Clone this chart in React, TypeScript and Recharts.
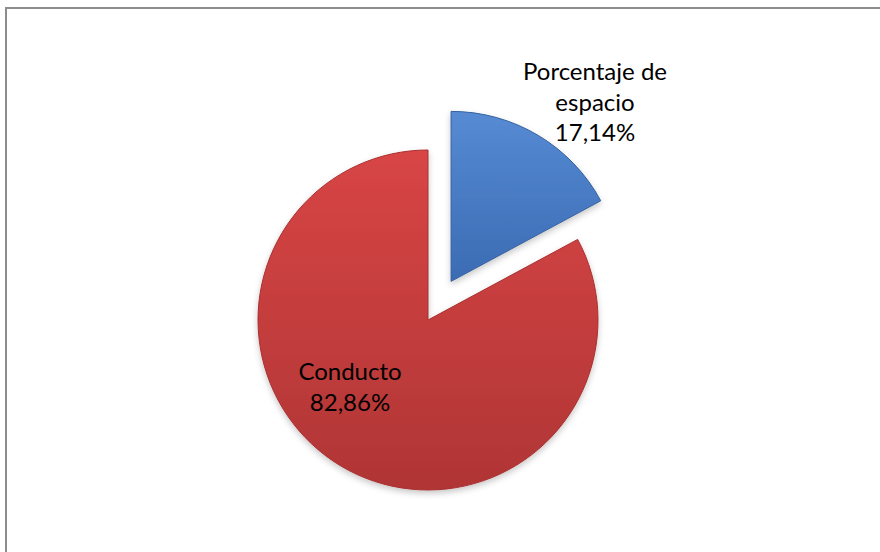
import React from 'react';
import { PieChart, Pie, Cell, Sector } from 'recharts';

const names = ['Porcentaje de espacio', 'Conducto'];
const values = [17.14, 82.86];
const valueLabels = ['17,14%', '82,86%'];
const labelLines = [['Porcentaje de', 'espacio'], ['Conducto']];

const data = names.map((name, i) => ({ name, value: values[i] }));

const FILLS = ['url(#blueGrad)', 'url(#redGrad)'];
const STROKES = ['#34609f', '#a83030'];
const RAD = Math.PI / 180;
const EXPLODE = 45;

// blue slice is pulled out along its mid angle
const renderSlice = (props: any) => {
  const { cx, cy, midAngle, index } = props;
  const off = index === 0 ? EXPLODE : 0;
  const dx = Math.cos(-midAngle * RAD) * off;
  const dy = Math.sin(-midAngle * RAD) * off;
  return <Sector {...props} cx={cx + dx} cy={cy + dy} filter="url(#shadow)" />;
};

const renderLabel = (props: any) => {
  const { cx, cy, index } = props;
  const lines = [...labelLines[index], valueLabels[index]];
  // label anchors relative to the pie centre
  const x = index === 0 ? cx + 167 : cx - 78;
  const y = index === 0 ? cy - 240 : cy + 60;
  return (
    <text x={x} y={y} textAnchor="middle" fill="#000" fontSize={24} fontFamily="Lato">
      {lines.map((l, i) => (
        <tspan key={i} x={x} dy={i === 0 ? 0 : 30.5}>{l}</tspan>
      ))}
    </text>
  );
};

export default function App() {
  return (
    <div style={{ position: 'fixed', left: 0, top: 0, width: 880, height: 552, background: '#fff', overflow: 'hidden' }}>
      <div style={{ position: 'absolute', left: 5, top: 7, width: 880, height: 560, borderLeft: '2px solid #8d8d8d', borderTop: '2px solid #8d8d8d' }} />
      <div style={{ position: 'absolute', left: 0, top: 0 }}>
        <PieChart width={880} height={552} margin={{ top: 0, right: 0, bottom: 0, left: 0 }}>
          <defs>
            <linearGradient id="redGrad" x1="0" y1="0" x2="0" y2="1">
              <stop offset="0%" stopColor="#d84545" />
              <stop offset="100%" stopColor="#b03535" />
            </linearGradient>
            <linearGradient id="blueGrad" x1="0" y1="0" x2="0" y2="1">
              <stop offset="0%" stopColor="#568bd4" />
              <stop offset="100%" stopColor="#3a6bb3" />
            </linearGradient>
            <filter id="shadow" x="-20%" y="-20%" width="140%" height="140%">
              <feDropShadow dx="0" dy="3" stdDeviation="3" floodColor="#000" floodOpacity="0.22" />
            </filter>
          </defs>
          <Pie
            data={data}
            dataKey="value"
            cx={428}
            cy={320}
            outerRadius={170}
            startAngle={90}
            endAngle={-270}
            isAnimationActive={false}
            shape={renderSlice}
            label={renderLabel}
            labelLine={false}
          >
            {data.map((d, i) => (
              <Cell key={d.name} fill={FILLS[i]} stroke={STROKES[i]} strokeWidth={1} />
            ))}
          </Pie>
        </PieChart>
      </div>
    </div>
  );
}
